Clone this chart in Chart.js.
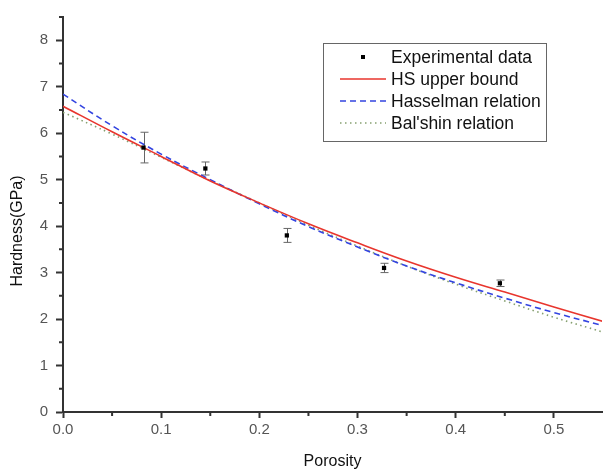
<!DOCTYPE html>
<html><head><meta charset="utf-8">
<script src="https://cdn.jsdelivr.net/npm/chart.js@4.4.0/dist/chart.umd.min.js"></script>
<style>html,body{margin:0;padding:0;background:#fff}#wrap{width:606px;height:473px;position:relative}</style>
</head><body><div id="wrap"><canvas id="c" width="606" height="473"></canvas></div>
<script>
// ---- data ----
const expPorosity = [0.082, 0.145, 0.228, 0.327, 0.445];
const expHardness = [5.69, 5.24, 3.80, 3.10, 2.77];
const expError    = [0.33, 0.14, 0.15, 0.10, 0.07];

const curvePorosity = [0, 0.05, 0.10, 0.15, 0.20, 0.25, 0.30, 0.35, 0.40, 0.45, 0.50, 0.55];
const hsUpper   = [6.58, 6.03, 5.50, 4.97, 4.50, 4.05, 3.64, 3.25, 2.90, 2.58, 2.26, 1.95];
const hasselman = [6.84, 6.16, 5.55, 5.00, 4.48, 3.99, 3.55, 3.14, 2.78, 2.45, 2.14, 1.86];
const balshin   = [6.45, 5.98, 5.48, 4.98, 4.50, 4.02, 3.57, 3.14, 2.75, 2.39, 2.04, 1.72];

const seriesLabels = ["Experimental data", "HS upper bound", "Hasselman relation", "Bal'shin relation"];
const seriesColors = ["#000000", "#e8352d", "#3344e0", "#86a070"];
const xMinorTicks = [0.05, 0.15, 0.25, 0.35, 0.45];
const yMinorTicks = [0.5, 1.5, 2.5, 3.5, 4.5, 5.5, 6.5, 7.5, 8.5];
const xTitle = "Porosity";
const yTitle = "Hardness(GPa)";

const FONT = "'Liberation Sans', Arial, sans-serif";
const pts = (xs, ys) => xs.map((x, i) => ({x: x, y: ys[i]}));

const extras = {
  id: 'extras',
  beforeDatasetsDraw(chart) {
    const ctx = chart.ctx, xs = chart.scales.x, ys = chart.scales.y;
    ctx.save();
    ctx.strokeStyle = '#666'; ctx.lineWidth = 1;
    expPorosity.forEach((p, i) => {
      const px = Math.round(xs.getPixelForValue(p)) + 0.5;
      const top = ys.getPixelForValue(expHardness[i] + expError[i]);
      const bot = ys.getPixelForValue(expHardness[i] - expError[i]);
      ctx.beginPath();
      ctx.moveTo(px, top); ctx.lineTo(px, bot);
      ctx.moveTo(px - 4, top); ctx.lineTo(px + 4, top);
      ctx.moveTo(px - 4, bot); ctx.lineTo(px + 4, bot);
      ctx.stroke();
    });
    ctx.restore();
  },
  afterDraw(chart) {
    const ctx = chart.ctx, xs = chart.scales.x, ys = chart.scales.y;
    const ca = chart.chartArea;
    ctx.save();
    // minor ticks
    ctx.strokeStyle = '#333'; ctx.lineWidth = 2;
    ctx.beginPath();
    xMinorTicks.forEach(v => { const px = xs.getPixelForValue(v); ctx.moveTo(px, ca.bottom); ctx.lineTo(px, ca.bottom + 4); });
    yMinorTicks.forEach(v => { const py = ys.getPixelForValue(v); ctx.moveTo(ca.left, py); ctx.lineTo(ca.left - 4, py); });
    ctx.stroke();
    // y axis title
    ctx.save();
    ctx.translate(18, 231);
    ctx.rotate(-Math.PI / 2);
    ctx.font = "16px " + FONT;
    ctx.fillStyle = '#111';
    ctx.textAlign = 'center'; ctx.textBaseline = 'middle';
    ctx.fillText(yTitle, 0, 0);
    ctx.restore();
    // legend
    const L = 323.5, T = 43.5, R = 546.5, B = 141.5;
    ctx.fillStyle = '#fff';
    ctx.fillRect(L, T, R - L, B - T);
    ctx.strokeStyle = '#666'; ctx.lineWidth = 1;
    ctx.strokeRect(L, T, R - L, B - T);
    const rowY = [57, 79, 101, 123];
    ctx.font = "17.5px " + FONT;
    ctx.textBaseline = 'middle';
    chart.data.datasets.forEach((ds, i) => {
      const y = rowY[i];
      if (i === 0) {
        ctx.fillStyle = seriesColors[0];
        ctx.fillRect(361, y - 2, 4, 4);
      } else {
        ctx.strokeStyle = seriesColors[i]; ctx.lineWidth = 1.3;
        ctx.setLineDash(ds.borderDash || []);
        ctx.beginPath(); ctx.moveTo(340, y); ctx.lineTo(386, y); ctx.stroke();
        ctx.setLineDash([]);
      }
      ctx.fillStyle = '#111';
      ctx.fillText(ds.label, 391, y + 1);
    });
    ctx.restore();
  }
};

new Chart(document.getElementById('c'), {
  type: 'scatter',
  data: {
    datasets: [
      { label: seriesLabels[0], data: pts(expPorosity, expHardness), showLine: false,
        pointStyle: 'rect', pointRadius: 3, backgroundColor: seriesColors[0], borderColor: seriesColors[0], borderWidth: 0 },
      { label: seriesLabels[1], data: pts(curvePorosity, hsUpper), showLine: true, tension: 0.4,
        pointRadius: 0, borderColor: seriesColors[1], borderWidth: 1.6 },
      { label: seriesLabels[2], data: pts(curvePorosity, hasselman), showLine: true, tension: 0.4,
        pointRadius: 0, borderColor: seriesColors[2], borderWidth: 1.6, borderDash: [6, 4] },
      { label: seriesLabels[3], data: pts(curvePorosity, balshin), showLine: true, tension: 0.4,
        pointRadius: 0, borderColor: seriesColors[3], borderWidth: 1.6, borderDash: [1.5, 3.5] }
    ]
  },
  options: {
    responsive: false, animation: false, devicePixelRatio: 1,
    layout: { padding: { top: 13, left: 0, right: 0, bottom: 0 } },
    plugins: { legend: { display: false }, tooltip: { enabled: false } },
    scales: {
      x: {
        type: 'linear', min: 0, max: 0.549,
        afterFit: s => { s.height = 61; },
        border: { color: '#333', width: 2 },
        grid: { drawOnChartArea: false, drawTicks: true, tickLength: 6, tickColor: '#333', tickWidth: 2 },
        ticks: { stepSize: 0.1, includeBounds: false, padding: 3, color: '#555', font: { family: FONT, size: 15 },
                 callback: v => Number(v).toFixed(1), maxRotation: 0 },
        title: { display: true, text: xTitle, color: '#111', font: { family: FONT, size: 16 }, padding: { top: 0, bottom: 2 } }
      },
      y: {
        type: 'linear', min: 0, max: 8.5,
        afterFit: s => { s.width = 63; },
        border: { color: '#333', width: 2 },
        grid: { drawOnChartArea: false, drawTicks: true, tickLength: 7, tickColor: '#333', tickWidth: 2 },
        ticks: { stepSize: 1, includeBounds: false, padding: 8, color: '#555', font: { family: FONT, size: 15 } },
        title: { display: false }
      }
    }
  },
  plugins: [extras]
});
</script></body></html>
